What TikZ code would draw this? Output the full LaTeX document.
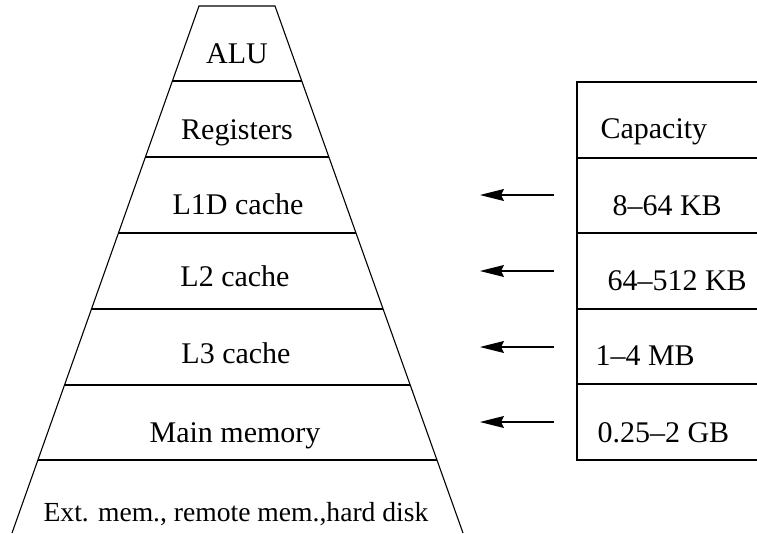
\documentclass[tikz,border=0pt]{standalone}
\usepackage{fontspec}
\setmainfont{Liberation Serif}
\usetikzlibrary{arrows.meta,calc}
\begin{document}
\begin{tikzpicture}[x=1pt,y=-1pt,line width=1.1pt,
  lbl/.style={font=\fontsize{30}{32}\selectfont,inner sep=0pt,anchor=base},
  caplbl/.style={lbl,anchor=base west},
  ptr/.style={-{Stealth[length=24pt,width=12pt,inset=3pt]}}]
\useasboundingbox (0,0) rectangle (757,533);
% pyramid outline
\coordinate (tl) at (199,6);
\coordinate (tr) at (275,6);
\coordinate (bl) at (12,533);
\coordinate (br) at (463,533);
\draw (bl) -- (tl) -- (tr) -- (br);
% level dividers
\foreach \yy in {81,157,233,309,385,460}{
  \draw ($(tl)!{(\yy-6)/527}!(bl)$) -- ($(tr)!{(\yy-6)/527}!(br)$);
}
% level labels
\node[lbl] (alu) at (237,63) {ALU};
\node[lbl] (reg) at (237,139) {Registers};
\node[lbl] (l1) at (238,214) {L1D cache};
\node[lbl] (l2) at (235,286) {L2 cache};
\node[lbl] (l3) at (236,363) {L3 cache};
\node[lbl] (mm) at (235,442) {Main memory};
\node[lbl,font=\fontsize{27.6}{30}\selectfont] (ext) at (236,521) {Ext. mem., remote mem.,hard disk};
% capacity table
\draw (757,82) -- (577,82) -- (577,460) -- (757,460);
\foreach \yy in {158,233,309,384}{
  \draw (577,\yy) -- (757,\yy);
}
\node[caplbl] (capt) at (600,138) {Capacity};
\node[caplbl] (c1) at (612,215) {8\textendash 64 KB};
\node[caplbl] (c2) at (607,290) {64\textendash 512 KB};
\node[caplbl] (c3) at (595,365) {1\textendash 4 MB};
\node[caplbl] (c4) at (597,442) {0.25\textendash 2 GB};
% arrows
\foreach \i/\yy in {1/195,2/271,3/347,4/422}{
  \coordinate (s\i) at (554,\yy);
  \coordinate (e\i) at (480,\yy);
  \draw[ptr] (s\i) -- (e\i);
}
\end{tikzpicture}
\end{document}
